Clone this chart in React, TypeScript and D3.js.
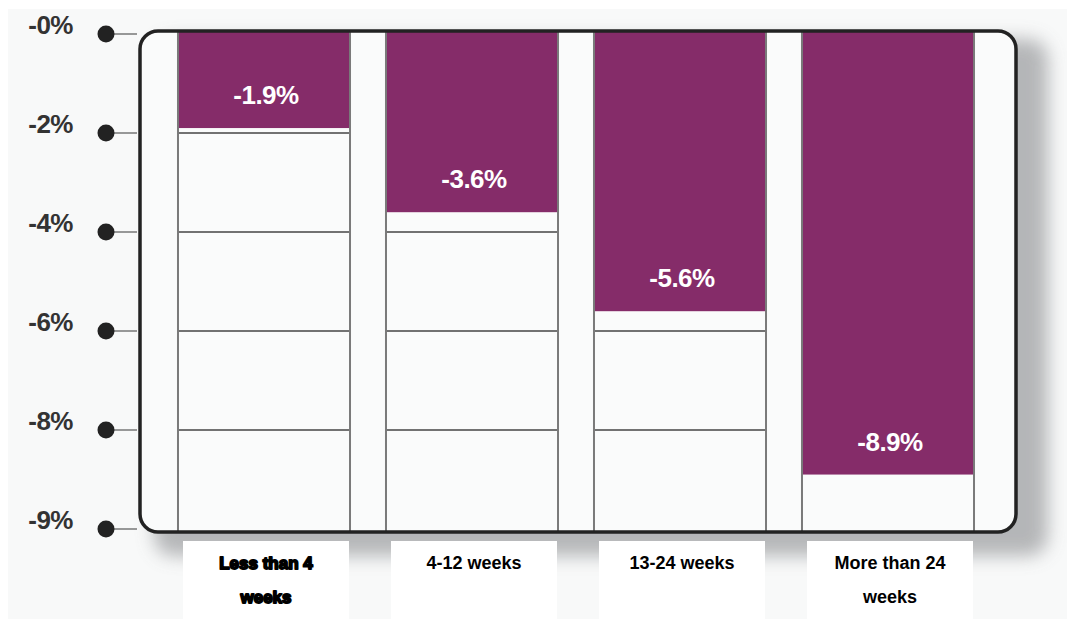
import React from "react";
import * as d3 from "d3";

const categories = ["Less than 4 weeks", "4-12 weeks", "13-24 weeks", "More than 24 weeks"];
const categoryLines = [["Less than 4", "weeks"], ["4-12 weeks"], ["13-24 weeks"], ["More than 24", "weeks"]];
const values = [-1.9, -3.6, -5.6, -8.9];
const valueLabels = ["-1.9%", "-3.6%", "-5.6%", "-8.9%"];
const tickValues = [0, -2, -4, -6, -8, -10];
const tickLabels = ["-0%", "-2%", "-4%", "-6%", "-8%", "-9%"];
const gridValues = [-2, -4, -6, -8];

const W = 1067;
const H = 619;
const PURPLE = "#852c69";
const FONT = "'Liberation Sans', Arial, sans-serif";

export default function App() {
  const y = d3.scaleLinear().domain([0, -10]).range([34, 529]);
  const x = d3
    .scaleBand<string>()
    .domain(categories)
    .range([160, 992])
    .paddingInner(0.173)
    .paddingOuter(0.0865);
  const bw = x.bandwidth();
  const frameTop = y(0) - 3;
  const frameBottom = y(-10) + 3;
  const frameLeft = 140;
  const frameRight = 1016;

  return (
    <svg
      width={W}
      height={H}
      style={{ position: "absolute", left: 0, top: 0, display: "block" }}
      xmlns="http://www.w3.org/2000/svg"
    >
      <defs>
        <filter id="shadow" x="-10%" y="-10%" width="120%" height="130%">
          <feGaussianBlur stdDeviation="9" />
        </filter>
      </defs>
      <rect x={0} y={0} width={W} height={H} fill="#ffffff" />
      <rect x={8} y={9} width={W - 8} height={H - 9} fill="#f8f9f9" />
      {/* shadow */}
      <rect
        x={frameLeft + 14}
        y={frameTop + 8}
        width={frameRight - frameLeft + 18}
        height={frameBottom - frameTop + 16}
        rx={20}
        fill="#a4a6a8"
        opacity={0.8}
        filter="url(#shadow)"
      />
      {/* category label boxes */}
      {categories.map((c) => (
        <rect key={"box" + c} x={(x(c) as number) + 5} y={541} width={bw - 6} height={H - 541} fill="#ffffff" />
      ))}
      {/* frame */}
      <rect
        x={frameLeft}
        y={frameTop}
        width={frameRight - frameLeft}
        height={frameBottom - frameTop}
        rx={18}
        fill="#fafbfb"
        stroke="none"
      />
      {/* bars */}
      {categories.map((c, i) => (
        <rect
          key={"bar" + c}
          x={x(c) as number}
          y={frameTop}
          width={bw}
          height={y(values[i]) - frameTop}
          fill={PURPLE}
        />
      ))}
      {/* gridlines in columns */}
      {categories.map((c, i) =>
        gridValues
          .filter((g) => g < values[i])
          .map((g) => (
            <line
              key={"g" + c + g}
              x1={x(c) as number}
              x2={(x(c) as number) + bw}
              y1={y(g)}
              y2={y(g)}
              stroke="#444"
              strokeWidth={1.6}
            />
          ))
      )}
      {/* column edges */}
      {categories.map((c) => (
        <g key={"edge" + c}>
          <line x1={x(c) as number} x2={x(c) as number} y1={frameTop} y2={frameBottom} stroke="#7a7a7a" strokeWidth={2} />
          <line x1={(x(c) as number) + bw} x2={(x(c) as number) + bw} y1={frameTop} y2={frameBottom} stroke="#7a7a7a" strokeWidth={2} />
        </g>
      ))}
      {/* frame stroke */}
      <rect
        x={frameLeft}
        y={frameTop}
        width={frameRight - frameLeft}
        height={frameBottom - frameTop}
        rx={18}
        fill="none"
        stroke="#222"
        strokeWidth={3.5}
      />
      {/* y ticks */}
      {tickValues.map((t, i) => (
        <g key={"t" + t}>
          <line x1={112} x2={frameLeft - 3} y1={y(t)} y2={y(t)} stroke="#777" strokeWidth={1.5} />
          <circle cx={106} cy={y(t)} r={8.5} fill="#222" />
          <text
            x={73}
            y={y(t)}
            textAnchor="end"
            fontFamily={FONT}
            fontWeight="bold"
            fontSize={26}
            fill="#333"
            letterSpacing={-0.5}
          >
            {tickLabels[i]}
          </text>
        </g>
      ))}
      {/* value labels */}
      {categories.map((c, i) => (
        <text
          key={"v" + c}
          x={(x(c) as number) + bw / 2 + 2}
          y={y(values[i]) - 24}
          textAnchor="middle"
          fontFamily={FONT}
          fontWeight="bold"
          fontSize={26}
          fill="#ffffff"
          letterSpacing={-0.5}
        >
          {valueLabels[i]}
        </text>
      ))}
      {/* category labels */}
      {categories.map((c, i) =>
        categoryLines[i].map((ln, j) => (
          <text
            key={"c" + c + j}
            x={(x(c) as number) + bw / 2 + 2}
            y={569 + j * 34}
            textAnchor="middle"
            fontFamily={FONT}
            fontWeight="bold"
            fontSize={i === 0 ? 17 : 18}
            fill="#000"
            stroke={i === 0 ? "#000" : "none"}
            strokeWidth={i === 0 ? 1.8 : 0}
            strokeLinejoin="round"
          >
            {ln}
          </text>
        ))
      )}
    </svg>
  );
}
